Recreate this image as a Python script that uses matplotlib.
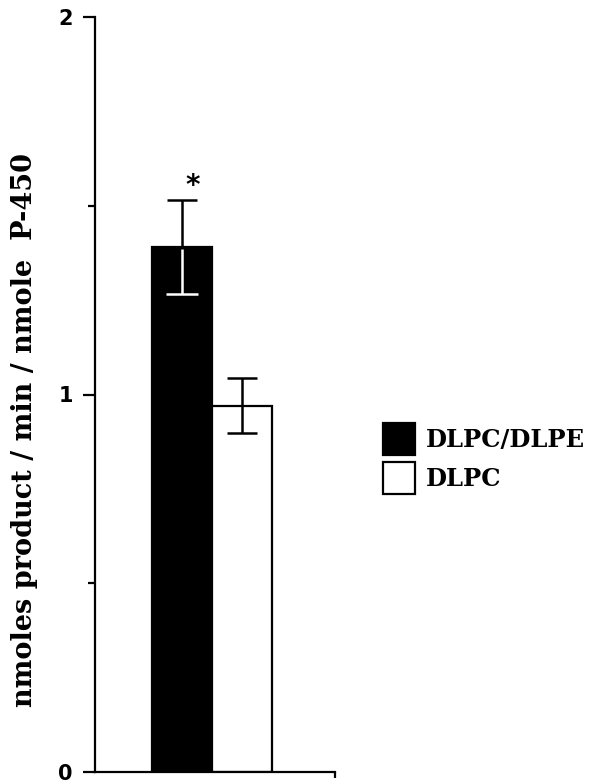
import matplotlib.pyplot as plt

groups = ['DLPC/DLPE', 'DLPC']
activity = [1.39, 0.97]
sem = [0.125, 0.073]
colors = ['black', 'white']

fig = plt.figure(figsize=(5.92, 7.83), dpi=100)
ax = fig.add_axes([95 / 592, 1 - 772 / 783, 240 / 592, (772 - 17) / 783])

pos = [0, 1]
bars = ax.bar(pos, activity, width=1.0, color=colors, edgecolor='black',
              linewidth=1.6, label=groups, zorder=2)

# black bar: the lower half of its error bar is white inside the bar
cap = 0.26
ax.vlines(pos[0], activity[0] - sem[0], activity[0] - 0.004, color='white',
          linewidth=1.8, zorder=3)
ax.hlines(activity[0] - sem[0], pos[0] - cap, pos[0] + cap, color='white',
          linewidth=1.8, zorder=3)
ax.errorbar(pos[0], activity[0], yerr=[[0], [sem[0]]], color='black',
            capsize=11, capthick=1.8, elinewidth=1.8, zorder=4)
ax.errorbar(pos[1], activity[1], yerr=sem[1], color='black',
            capsize=11, capthick=1.8, elinewidth=1.8, zorder=4)

ax.text(pos[0] + 0.18, activity[0] + sem[0] + 0.0, '*', fontsize=20,
        fontweight='bold', ha='center', va='bottom')

ax.set_xlim(-1.45, 2.55)
ax.set_ylim(0, 2)
ax.spines['top'].set_visible(False)
ax.spines['right'].set_visible(False)
ax.spines['left'].set_linewidth(1.6)
ax.spines['bottom'].set_linewidth(1.6)

ax.set_yticks([0, 1, 2])
ax.set_yticklabels(['0', '1', '2'], fontsize=15, fontweight='bold')
ax.set_yticks([0.5, 1.5], minor=True)
ax.tick_params(axis='y', which='major', length=9, width=1.6, pad=7)
ax.tick_params(axis='y', which='minor', length=5, width=1.6)
ax.set_xticks([2.55])
ax.set_xticklabels([''])
ax.tick_params(axis='x', length=4, width=1.6)

fig.text(0.042, 0.451, 'nmoles product / min / nmole  P-450', rotation=90,
         ha='center', va='center', fontsize=19.5, fontweight='bold',
         family='DejaVu Serif')

fig.legend(handles=list(bars), labels=groups, loc='upper left',
           bbox_to_anchor=(383 / 592, 1 - 423 / 783), frameon=False,
           prop={'family': 'DejaVu Serif', 'weight': 'bold', 'size': 17.5},
           handlelength=1.31, handleheight=1.65, handletextpad=0.45,
           labelspacing=0.3, borderpad=0, borderaxespad=0)

fig.savefig('out.png', dpi=100)
